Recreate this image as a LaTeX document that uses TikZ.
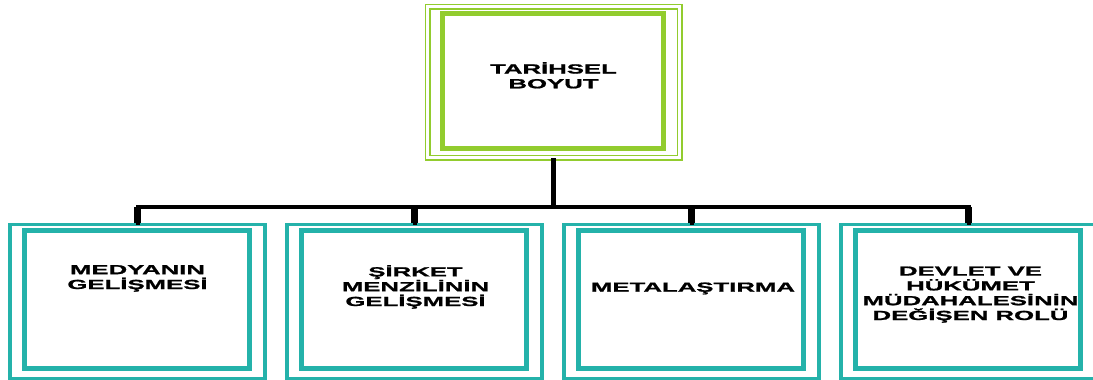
\documentclass[tikz,border=0pt]{standalone}
\usepackage{fontspec}
\newfontfamily\semafont[FakeStretch=1.95, FakeBold=1.3]{Liberation Sans Bold}
\usetikzlibrary{positioning}
\definecolor{kokyesil}{RGB}{146,204,46}
\definecolor{dalturkuaz}{RGB}{36,178,170}

\begin{document}
\begin{tikzpicture}[x=1pt, y=1pt, node distance=18.5pt,
  kutu/.style={draw=#1, minimum width=255pt, minimum height=154pt, line width=3.5pt,
    path picture={\draw[#1, line width=5pt]
      ([xshift=14.5pt, yshift=-6.5pt]path picture bounding box.north west) rectangle
      ([xshift=-16pt, yshift=9.5pt]path picture bounding box.south east);}},
  kokkutu/.style={kutu=kokyesil, line width=1.5pt, double, double distance=3pt,
    minimum width=252pt, minimum height=151pt},
  yazi/.style={align=center, inner sep=0pt, anchor=base,
    font=\semafont\fontsize{13.2}{14.8}\selectfont},
  hat/.style={draw, line width=4pt}
  ]
  \useasboundingbox (0,0) rectangle (1093,-380);

  \node[kokkutu] (kok) at (553.5,-82) {};
  \node[yazi] (kokyazi) at ([yshift=-6.3pt]kok.center) {TARİHSEL\\BOYUT};

  \node[kutu=dalturkuaz] (k1) at (137.5,-301.3) {};
  \node[kutu=dalturkuaz, right=of k1] (k2) {};
  \node[kutu=dalturkuaz, right=of k2] (k3) {};
  \node[kutu=dalturkuaz, right=of k3] (k4) {};

  \node[yazi] (y1) at ([yshift=12.3pt]k1.center) {MEDYANIN\\GELİŞMESİ};
  \node[yazi] (y2) at ([xshift=1pt, yshift=-4.7pt]k2.center) {ŞİRKET\\MENZİLİNİN\\GELİŞMESİ};
  \node[yazi] (y3) at ([xshift=1.5pt, yshift=9.6pt]k3.center) {METALAŞTIRMA};
  \node[yazi] (y4) at ([xshift=2pt, yshift=-18.7pt]k4.center) {DEVLET VE\\HÜKÜMET\\MÜDAHALESİNİN\\DEĞİŞEN ROLÜ};

  \coordinate (kavsak) at ([yshift=-49pt]kok.south);
  \draw[hat, line width=5.5pt] (kok.south) -- (kavsak);
  \foreach \k in {k1,k2,k3,k4} {
    \draw[hat, line cap=rect] (kavsak) -| (\k.north);
    \draw[hat, line width=6.5pt] (\k.north |- kavsak) -- (\k.north);
  }
\end{tikzpicture}
\end{document}
